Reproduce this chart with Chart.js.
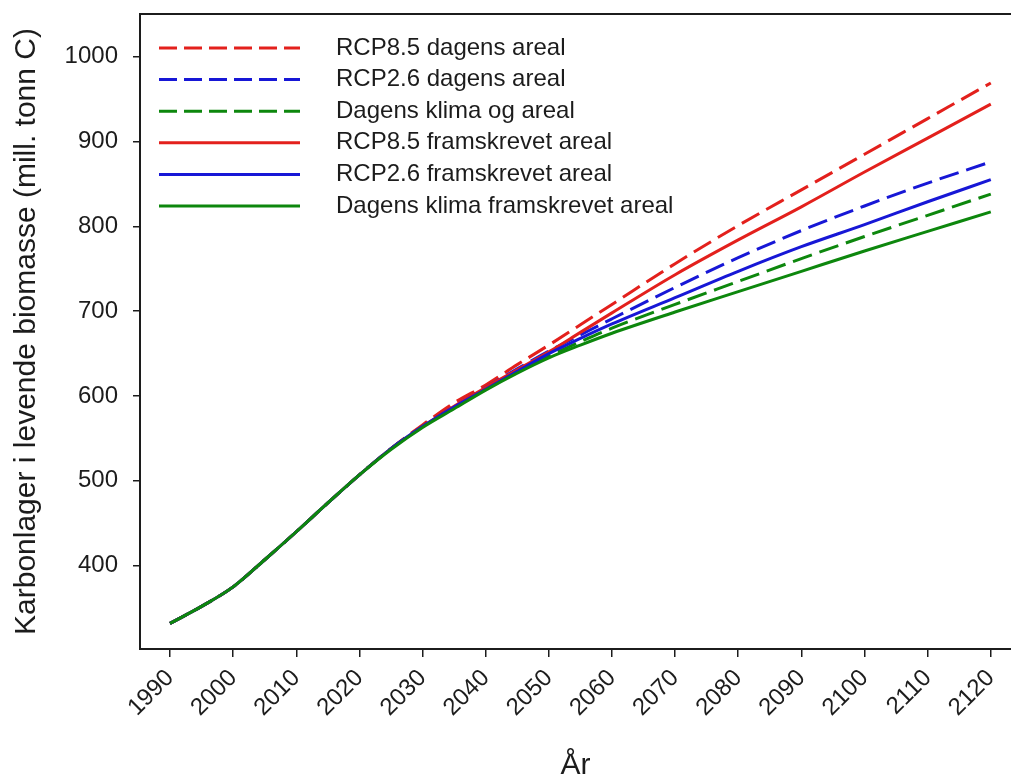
<!DOCTYPE html>
<html>
<head>
<meta charset="utf-8">
<script src="https://cdn.jsdelivr.net/npm/chart.js@4.4.1/dist/chart.umd.min.js"></script>
<style>
  html, body { margin: 0; padding: 0; background: #fff; }
  #wrap { width: 1011px; height: 781px; position: relative; }
</style>
</head>
<body>
<div id="wrap"><canvas id="chart"></canvas></div>
<script>
// years the values were read at
const years = [1990, 1995, 2000, 2005, 2010, 2015, 2020, 2025, 2030, 2035, 2040, 2045, 2050, 2055, 2060, 2070, 2080, 2090, 2100, 2110, 2120];

const rcp85Dagens    = [332, 352, 375, 407, 440, 474, 507, 538, 566, 592, 613, 637, 660, 684, 708, 756, 801, 843, 885, 927, 969];
const rcp26Dagens    = [332, 352, 375, 407, 440, 474, 507, 538, 564, 588, 610, 632, 653, 672, 691, 728, 763, 795, 824, 851, 876];
const dagensKlima    = [332, 352, 375, 407, 440, 474, 507, 538, 564, 587, 608, 628, 647, 664, 680, 708, 735, 762, 788, 813, 838];
const rcp85Framskr   = [332, 352, 375, 407, 440, 474, 507, 538, 564, 588, 610, 631, 652, 675, 698, 743, 784, 823, 864, 904, 944];
const rcp26Framskr   = [332, 352, 375, 407, 440, 474, 507, 538, 564, 587, 608, 629, 650, 668, 685, 716, 747, 776, 802, 829, 855];
const dagensFramskr  = [332, 352, 375, 407, 440, 474, 507, 537, 563, 585, 607, 627, 645, 660, 674, 699, 723, 747, 771, 794, 817];

const xTicks = [1990, 2000, 2010, 2020, 2030, 2040, 2050, 2060, 2070, 2080, 2090, 2100, 2110, 2120];
const yTicks = [400, 500, 600, 700, 800, 900, 1000];

const RED = '#e3201c', BLUE = '#1717d6', GREEN = '#0d870d';
const FONT = "'Liberation Sans', Arial, sans-serif";
const INK = '#1c1c1c';

function pts(vals) { return years.map((y, i) => ({ x: y, y: vals[i] })); }

function ds(label, vals, color, dashed, order) {
  return {
    label: label,
    data: pts(vals),
    borderColor: color,
    backgroundColor: color,
    borderWidth: 3,
    borderDash: dashed ? [20, 8] : [],
    pointRadius: 0,
    cubicInterpolationMode: 'monotone',
    fill: false,
    order: order
  };
}

// legend drawn inside the plot area plus the top frame line
const frameAndLegend = {
  id: 'frameAndLegend',
  afterDraw(c) {
    const ctx = c.ctx, a = c.chartArea;
    ctx.save();
    ctx.strokeStyle = INK;
    ctx.lineWidth = 2;
    ctx.beginPath();
    ctx.moveTo(a.left - 1, a.top);
    ctx.lineTo(c.width, a.top);
    ctx.stroke();

    ctx.font = '24px ' + FONT;
    ctx.textBaseline = 'middle';
    ctx.fillStyle = INK;
    c.data.datasets.forEach((d, i) => {
      const y = 48 + i * 31.6;
      ctx.strokeStyle = d.borderColor;
      ctx.lineWidth = 3;
      ctx.setLineDash(d.borderDash.length ? [18, 7] : []);
      ctx.beginPath();
      ctx.moveTo(159, y);
      ctx.lineTo(300, y);
      ctx.stroke();
      ctx.setLineDash([]);
      ctx.fillText(d.label, 336, y);
    });
    ctx.restore();
  }
};

new Chart(document.getElementById('chart'), {
  type: 'line',
  data: {
    datasets: [
      ds('RCP8.5 dagens areal', rcp85Dagens, RED, true, 5),
      ds('RCP2.6 dagens areal', rcp26Dagens, BLUE, true, 4),
      ds('Dagens klima og areal', dagensKlima, GREEN, true, 3),
      ds('RCP8.5 framskrevet areal', rcp85Framskr, RED, false, 2),
      ds('RCP2.6 framskrevet areal', rcp26Framskr, BLUE, false, 1),
      ds('Dagens klima framskrevet areal', dagensFramskr, GREEN, false, 0)
    ]
  },
  options: {
    responsive: true,
    maintainAspectRatio: false,
    animation: false,
    layout: { padding: { top: 14, right: 0, left: 0, bottom: 0 } },
    plugins: { legend: { display: false }, tooltip: { enabled: false } },
    scales: {
      x: {
        type: 'linear',
        min: 1985.25,
        max: 2123.2,
        afterBuildTicks: s => { s.ticks = xTicks.map(v => ({ value: v })); },
        afterFit: s => { s.height = 132; s.paddingLeft = 0; s.paddingRight = 0; },
        grid: { drawOnChartArea: false, drawTicks: true, tickLength: 8, color: INK, lineWidth: 1.5 },
        border: { display: true, color: INK, width: 2 },
        ticks: {
          autoSkip: false,
          minRotation: 45,
          maxRotation: 45,
          padding: 7,
          color: INK,
          font: { family: FONT, size: 24 },
          callback: v => String(v)
        },
        title: {
          display: true,
          text: 'År',
          color: INK,
          font: { family: FONT, size: 30 },
          padding: { top: 0, bottom: -3 }
        }
      },
      y: {
        min: 301.8,
        max: 1050.3,
        afterBuildTicks: s => { s.ticks = yTicks.map(v => ({ value: v })); },
        afterFit: s => { s.width = 140; s.paddingTop = 0; s.paddingBottom = 0; },
        grid: { drawOnChartArea: false, drawTicks: true, tickLength: 7, color: INK, lineWidth: 1.5 },
        border: { display: true, color: INK, width: 2 },
        ticks: {
          padding: 15,
          color: INK,
          font: { family: FONT, size: 24 },
          callback: v => String(v)
        },
        title: {
          display: true,
          text: 'Karbonlager i levende biomasse (mill. tonn C)',
          color: INK,
          font: { family: FONT, size: 30 },
          padding: { top: 9, bottom: 0 }
        }
      }
    }
  },
  plugins: [frameAndLegend]
});
</script>
</body>
</html>
